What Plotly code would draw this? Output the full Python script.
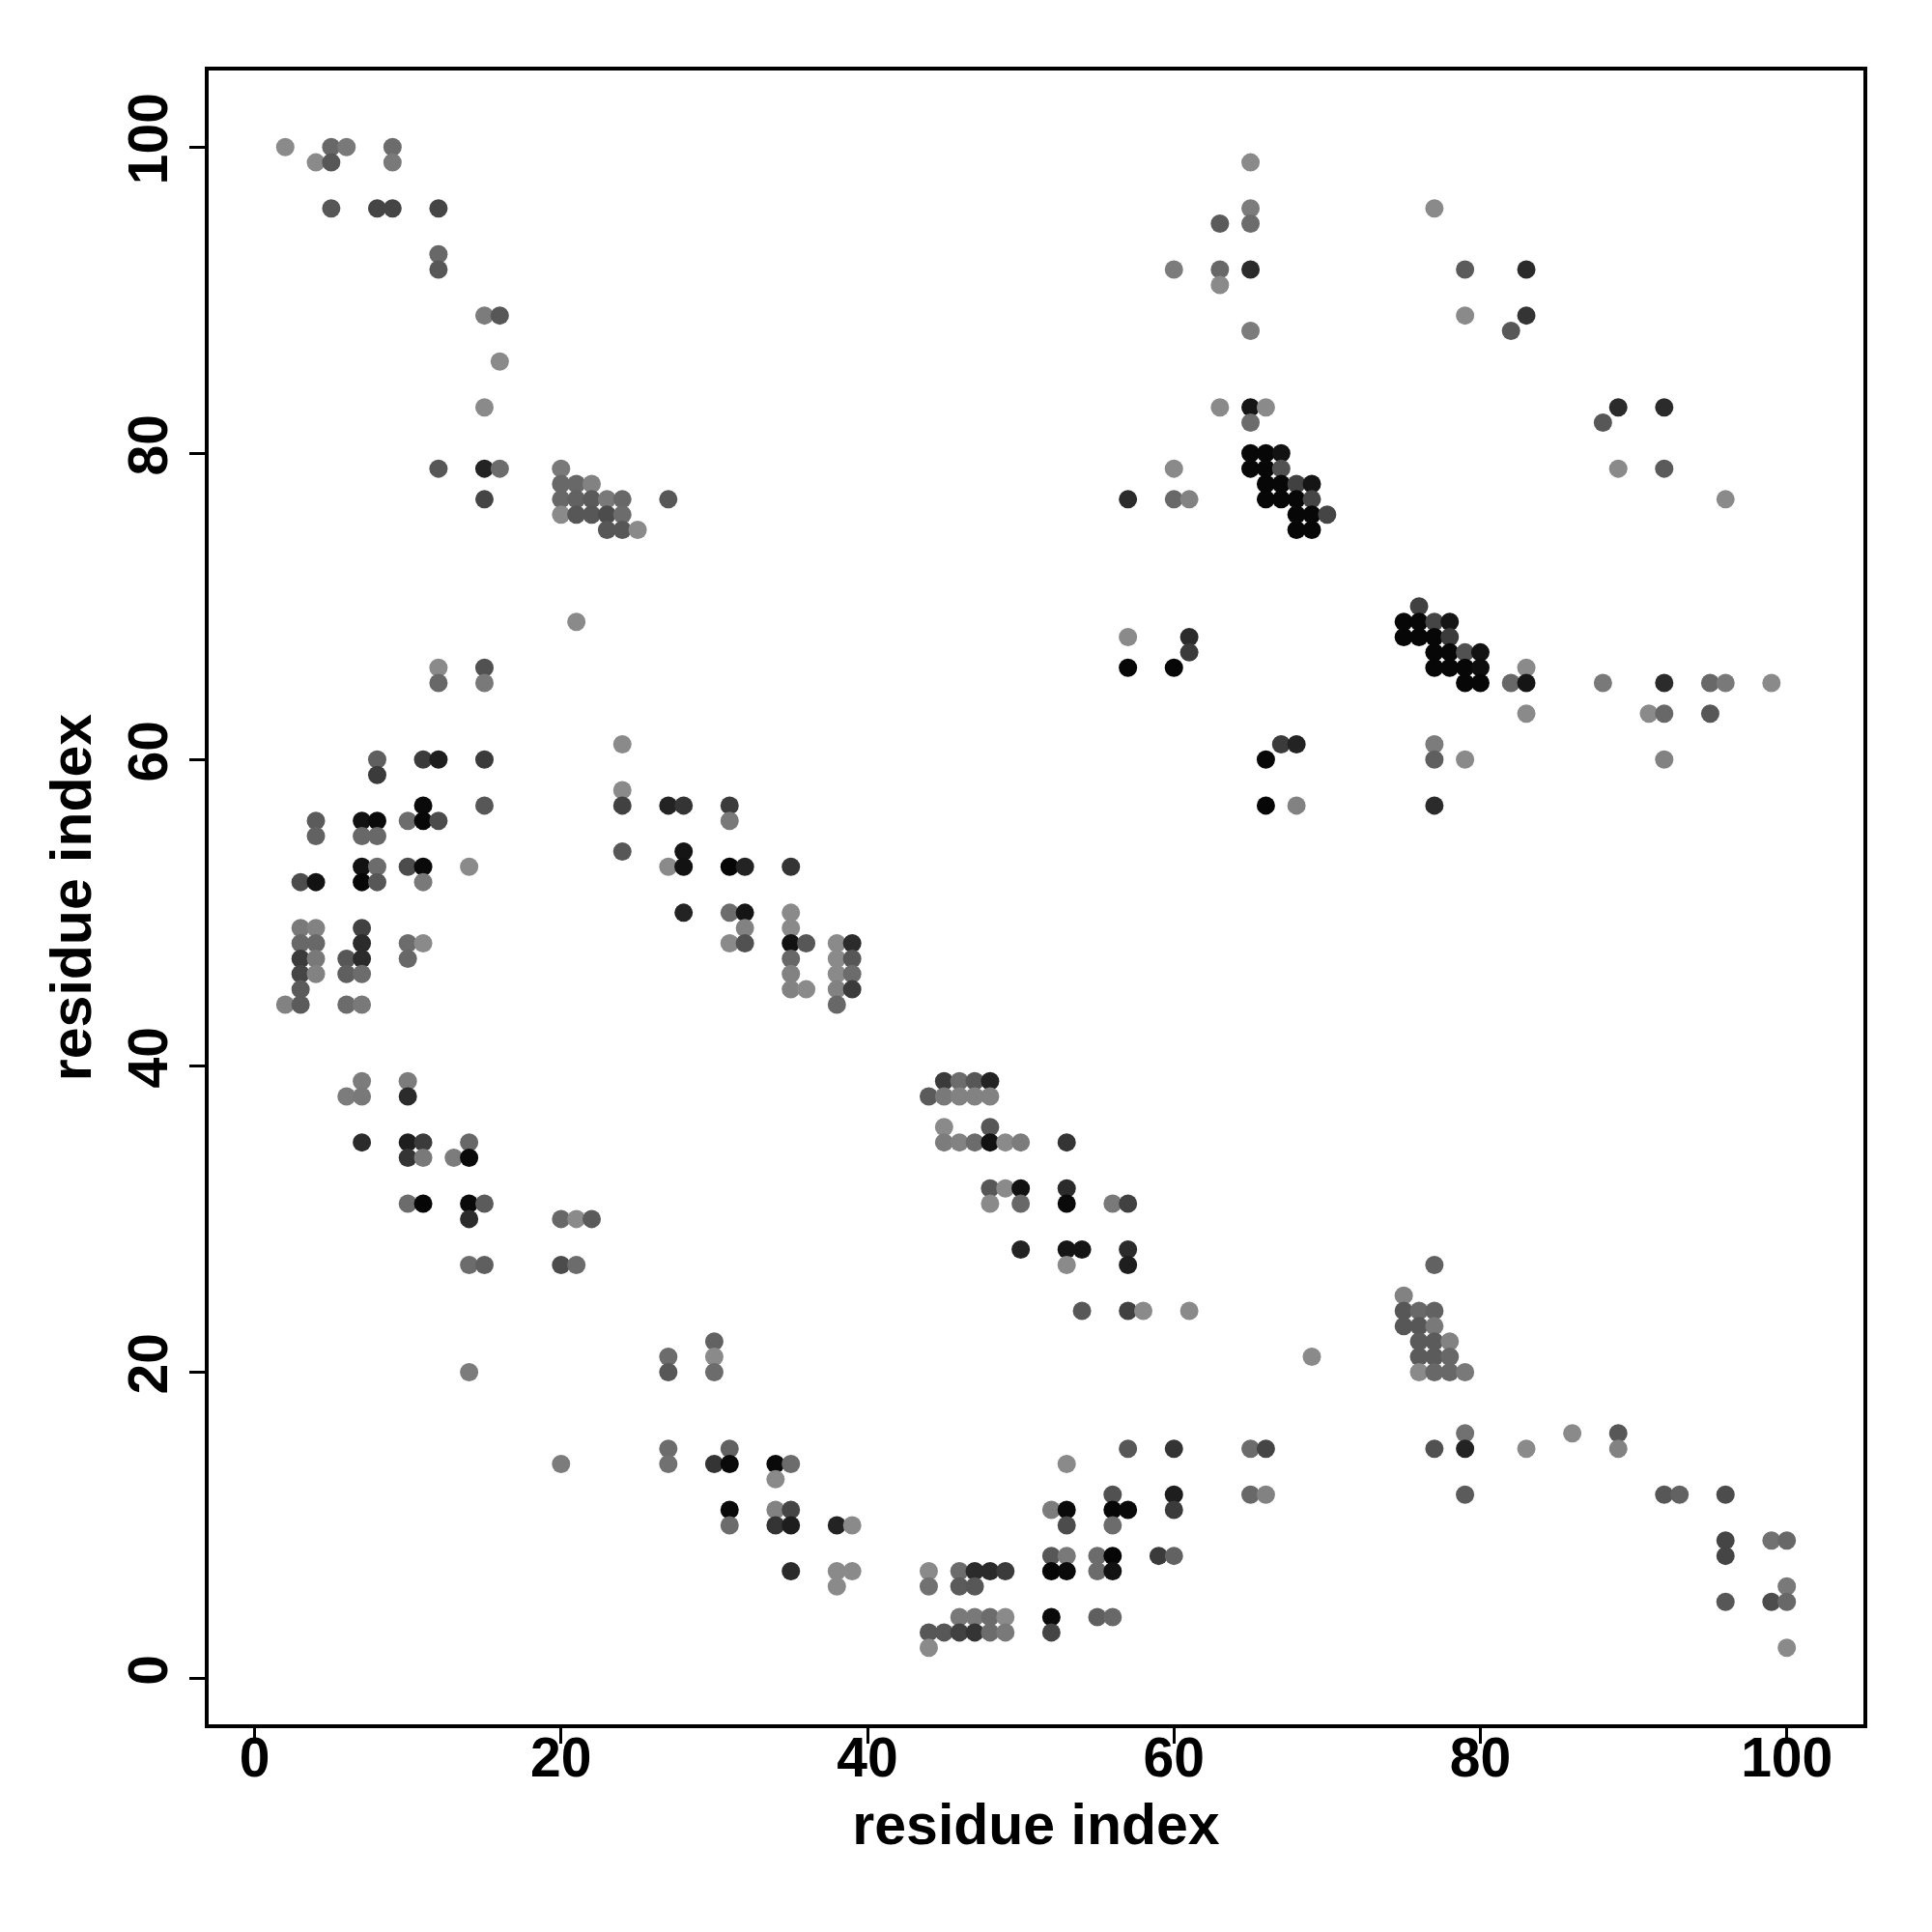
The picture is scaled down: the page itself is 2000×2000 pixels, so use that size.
import plotly.graph_objects as go

# Contact map: residue i (x), residue j (y), contact probability (shade)
res_i = [
    2, 5, 6, 9,
    4, 5, 9, 65,
    5, 8, 9, 12, 65, 77,
    63, 65,
    12,
    12, 60, 63, 65, 79, 83,
    63,
    15, 16, 79, 83,
    65, 82,
    16,
    15, 63, 65, 66, 89, 92,
    65, 88,
    65, 66, 67,
    12, 15, 16, 20, 60, 65, 66, 67, 89, 92,
    20, 21, 22, 66, 67, 68, 69,
    15, 20, 21, 22, 23, 24, 27, 57, 60, 61, 66, 67, 68, 69, 96,
    20, 21, 22, 23, 24, 68, 69, 70,
    23, 24, 25, 68, 69,
    76,
    21, 75, 76, 77, 78,
    57, 61, 75, 76, 77, 78,
    61, 77, 78, 79, 80,
    12, 15, 57, 60, 77, 78, 79, 80, 83,
    12, 15, 79, 80, 82, 83, 88, 92, 95, 96, 99,
    83, 91, 92, 95,
    24, 67, 68, 77,
    8, 11, 12, 15, 66, 77, 79, 92,
    8,
    24,
    11, 15, 24, 27, 28, 31, 66, 68, 77,
    4, 7, 8, 10, 11, 12, 31,
    4, 7, 8,
    24, 28,
    7, 8, 10, 11, 14, 27, 28, 31, 32, 35,
    3, 4, 7, 8, 11,
    28, 31, 32, 35,
    3, 4, 7, 32, 35,
    3, 4, 7, 10, 11, 31, 32, 35, 36, 38, 39,
    3, 4, 6, 7, 10, 35, 38, 39,
    3, 4, 6, 7, 35, 38, 39,
    3, 35, 36, 38, 39,
    2, 3, 6, 7, 38,
    7, 10, 45, 46, 47, 48,
    6, 7, 10, 44, 45, 46, 47, 48,
    45, 48,
    7, 10, 11, 14, 45, 46, 47, 48, 49, 50, 53,
    10, 11, 13, 14,
    48, 49, 50, 53,
    10, 11, 14, 15, 48, 50, 53, 56, 57,
    14, 20, 21, 22,
    50, 53, 54, 57,
    14, 15, 20, 21, 53, 57, 77,
    75,
    54, 57, 58, 61, 75, 76, 77,
    75, 76, 77,
    30, 76, 77, 78,
    27, 30, 69, 76, 77, 78,
    14, 27, 30, 76, 77, 78, 79,
    79, 86, 89,
    27, 31, 57, 60, 65, 66, 77, 79, 83, 89,
    20, 27, 30, 31, 34, 35, 53,
    34,
    56, 60, 65, 66, 79, 92, 93, 96,
    31, 34, 35, 52, 53, 56, 57, 60,
    31, 34, 35, 38, 39, 53, 56,
    96, 99, 100,
    52, 53, 55, 56, 59, 60, 96,
    35, 38, 39, 44, 46, 47, 48, 49, 52, 53, 55, 56,
    38, 44, 46, 47, 100,
    96, 99, 100,
    46, 47, 48, 49, 52, 55, 56,
    44, 45, 46, 47, 48, 49, 52,
    44, 100,
]

res_j = [
    100, 100, 100, 100,
    99, 99, 99, 99,
    96, 96, 96, 96, 96, 96,
    95, 95,
    93,
    92, 92, 92, 92, 92, 92,
    91,
    89, 89, 89, 89,
    88, 88,
    86,
    83, 83, 83, 83, 83, 83,
    82, 82,
    80, 80, 80,
    79, 79, 79, 79, 79, 79, 79, 79, 79, 79,
    78, 78, 78, 78, 78, 78, 78,
    77, 77, 77, 77, 77, 77, 77, 77, 77, 77, 77, 77, 77, 77, 77,
    76, 76, 76, 76, 76, 76, 76, 76,
    75, 75, 75, 75, 75,
    70,
    69, 69, 69, 69, 69,
    68, 68, 68, 68, 68, 68,
    67, 67, 67, 67, 67,
    66, 66, 66, 66, 66, 66, 66, 66, 66,
    65, 65, 65, 65, 65, 65, 65, 65, 65, 65, 65,
    63, 63, 63, 63,
    61, 61, 61, 61,
    60, 60, 60, 60, 60, 60, 60, 60,
    59,
    58,
    57, 57, 57, 57, 57, 57, 57, 57, 57,
    56, 56, 56, 56, 56, 56, 56,
    55, 55, 55,
    54, 54,
    53, 53, 53, 53, 53, 53, 53, 53, 53, 53,
    52, 52, 52, 52, 52,
    50, 50, 50, 50,
    49, 49, 49, 49, 49,
    48, 48, 48, 48, 48, 48, 48, 48, 48, 48, 48,
    47, 47, 47, 47, 47, 47, 47, 47,
    46, 46, 46, 46, 46, 46, 46,
    45, 45, 45, 45, 45,
    44, 44, 44, 44, 44,
    39, 39, 39, 39, 39, 39,
    38, 38, 38, 38, 38, 38, 38, 38,
    36, 36,
    35, 35, 35, 35, 35, 35, 35, 35, 35, 35, 35,
    34, 34, 34, 34,
    32, 32, 32, 32,
    31, 31, 31, 31, 31, 31, 31, 31, 31,
    30, 30, 30, 30,
    28, 28, 28, 28,
    27, 27, 27, 27, 27, 27, 27,
    25,
    24, 24, 24, 24, 24, 24, 24,
    23, 23, 23,
    22, 22, 22, 22,
    21, 21, 21, 21, 21, 21,
    20, 20, 20, 20, 20, 20, 20,
    16, 16, 16,
    15, 15, 15, 15, 15, 15, 15, 15, 15, 15,
    14, 14, 14, 14, 14, 14, 14,
    13,
    12, 12, 12, 12, 12, 12, 12, 12,
    11, 11, 11, 11, 11, 11, 11, 11,
    10, 10, 10, 10, 10, 10, 10,
    9, 9, 9,
    8, 8, 8, 8, 8, 8, 8,
    7, 7, 7, 7, 7, 7, 7, 7, 7, 7, 7, 7,
    6, 6, 6, 6, 6,
    5, 5, 5,
    4, 4, 4, 4, 4, 4, 4,
    3, 3, 3, 3, 3, 3, 3,
    2, 2,
]

prob = [
    0.0, 0.25, 0.12, 0.22,
    0.0, 0.37, 0.12, 0.0,
    0.37, 0.5, 0.5, 0.5, 0.1, 0.0,
    0.34, 0.22,
    0.25,
    0.37, 0.1, 0.25, 0.69, 0.34, 0.69,
    0.0,
    0.1, 0.37, 0.0, 0.62,
    0.1, 0.37,
    0.0,
    0.0, 0.0, 0.85, 0.0, 0.69, 0.69,
    0.22, 0.37,
    0.95, 0.95, 0.87,
    0.37, 0.75, 0.22, 0.12, 0.0, 0.95, 0.95, 0.41, 0.0, 0.34,
    0.25, 0.25, 0.06, 0.95, 0.95, 0.53, 0.85,
    0.5, 0.25, 0.29, 0.34, 0.12, 0.25, 0.37, 0.69, 0.25, 0.06, 0.95, 0.95, 0.95, 0.5, 0.0,
    0.0, 0.37, 0.37, 0.45, 0.22, 0.95, 0.95, 0.5,
    0.37, 0.37, 0.0, 0.95, 0.95,
    0.53,
    0.0, 0.95, 0.95, 0.5, 0.85,
    0.0, 0.69, 0.95, 0.95, 0.95, 0.57,
    0.57, 0.95, 0.95, 0.41, 0.87,
    0.0, 0.41, 0.95, 0.95, 0.95, 0.95, 0.95, 0.9, 0.0,
    0.25, 0.12, 0.95, 0.95, 0.25, 0.85, 0.12, 0.69, 0.25, 0.12, 0.0,
    0.0, 0.0, 0.25, 0.37,
    0.0, 0.57, 0.75, 0.1,
    0.31, 0.57, 0.78, 0.57, 0.95, 0.31, 0.0, 0.06,
    0.57,
    0.0,
    0.93, 0.37, 0.53, 0.75, 0.62, 0.57, 0.95, 0.06, 0.69,
    0.34, 0.87, 0.93, 0.22, 0.95, 0.45, 0.12,
    0.29, 0.25, 0.25,
    0.37, 0.85,
    0.87, 0.22, 0.45, 0.93, 0.0, 0.0, 0.87, 0.96, 0.75, 0.62,
    0.45, 0.87, 0.95, 0.37, 0.12,
    0.75, 0.22, 0.85, 0.0,
    0.12, 0.06, 0.53, 0.06, 0.0,
    0.25, 0.25, 0.69, 0.22, 0.0, 0.0, 0.41, 0.87, 0.37, 0.0, 0.69,
    0.57, 0.12, 0.37, 0.69, 0.25, 0.25, 0.0, 0.37,
    0.5, 0.06, 0.31, 0.22, 0.06, 0.0, 0.22,
    0.34, 0.06, 0.0, 0.06, 0.57,
    0.06, 0.34, 0.22, 0.12, 0.25,
    0.1, 0.1, 0.57, 0.22, 0.37, 0.75,
    0.1, 0.12, 0.69, 0.34, 0.12, 0.06, 0.06, 0.06,
    0.0, 0.37,
    0.69, 0.78, 0.57, 0.25, 0.1, 0.06, 0.22, 0.87, 0.0, 0.1, 0.62,
    0.62, 0.12, 0.1, 0.93,
    0.37, 0.0, 0.87, 0.69,
    0.22, 0.96, 0.93, 0.34, 0.0, 0.25, 0.93, 0.12, 0.53,
    0.69, 0.25, 0.0, 0.34,
    0.75, 0.85, 0.85, 0.69,
    0.22, 0.31, 0.45, 0.22, 0.0, 0.78, 0.29,
    0.06,
    0.37, 0.53, 0.0, 0.0, 0.37, 0.25, 0.29,
    0.37, 0.37, 0.12,
    0.29, 0.34, 0.34, 0.06,
    0.22, 0.0, 0.0, 0.34, 0.34, 0.25,
    0.1, 0.37, 0.22, 0.0, 0.25, 0.25, 0.12,
    0.18, 0.0, 0.37,
    0.22, 0.29, 0.37, 0.62, 0.22, 0.5, 0.41, 0.75, 0.0, 0.06,
    0.1, 0.18, 0.62, 0.93, 0.93, 0.22, 0.0,
    0.0,
    0.41, 0.78, 0.25, 0.06, 0.34, 0.37, 0.29, 0.45,
    0.93, 0.06, 0.5, 0.1, 0.93, 0.96, 0.93, 0.57,
    0.22, 0.62, 0.78, 0.75, 0.0, 0.45, 0.22,
    0.5, 0.18, 0.25,
    0.37, 0.12, 0.22, 0.96, 0.57, 0.29, 0.5,
    0.69, 0.0, 0.0, 0.0, 0.22, 0.69, 0.69, 0.57, 0.96, 0.93, 0.22, 0.87,
    0.0, 0.18, 0.34, 0.37, 0.12,
    0.37, 0.45, 0.25,
    0.12, 0.12, 0.22, 0.0, 0.93, 0.31, 0.25,
    0.37, 0.37, 0.53, 0.62, 0.22, 0.12, 0.5,
    0.0, 0.0,
]

x_ticks = [0, 20, 40, 60, 80, 100]
y_ticks = [0, 20, 40, 60, 80, 100]
axis_label = "residue index"

assert len(res_i) == len(res_j) == len(prob), (len(res_i), len(res_j), len(prob))

fig = go.Figure(
    go.Scatter(
        x=res_i,
        y=res_j,
        mode="markers",
        marker=dict(
            size=19,
            color=prob,
            cmin=0,
            cmax=1,
            colorscale=[[0, "rgb(138,138,138)"], [1, "rgb(0,0,0)"]],
            line=dict(width=0),
            showscale=False,
        ),
        hoverinfo="x+y",
    )
)

font_tick = dict(family="Liberation Sans, Arial, sans-serif", size=57, color="black", weight="bold")
font_title = dict(family="Liberation Sans, Arial, sans-serif", size=59, color="black", weight="bold")

common = dict(
    showgrid=False,
    zeroline=False,
    showline=True,
    mirror=True,
    linecolor="black",
    linewidth=4,
    ticks="outside",
    ticklen=16,
    tickwidth=3,
    tickcolor="black",
    tickfont=font_tick,
    range=[-3, 105],
)

fig.update_layout(
    width=2000,
    height=2000,
    margin=dict(l=208, r=79, t=65, b=223),
    paper_bgcolor="white",
    plot_bgcolor="white",
    showlegend=False,
    xaxis=dict(
        **common,
        tickvals=x_ticks,
        ticktext=[str(v) for v in x_ticks],
        ticklabelstandoff=-34,
        title=dict(text=axis_label, font=font_title, standoff=18),
    ),
    yaxis=dict(
        **common,
        tickvals=y_ticks,
        ticktext=[str(v) for v in y_ticks],
        tickangle=-90,
        title=dict(text=axis_label, font=font_title, standoff=9),
    ),
)

fig.write_html("out.html")
